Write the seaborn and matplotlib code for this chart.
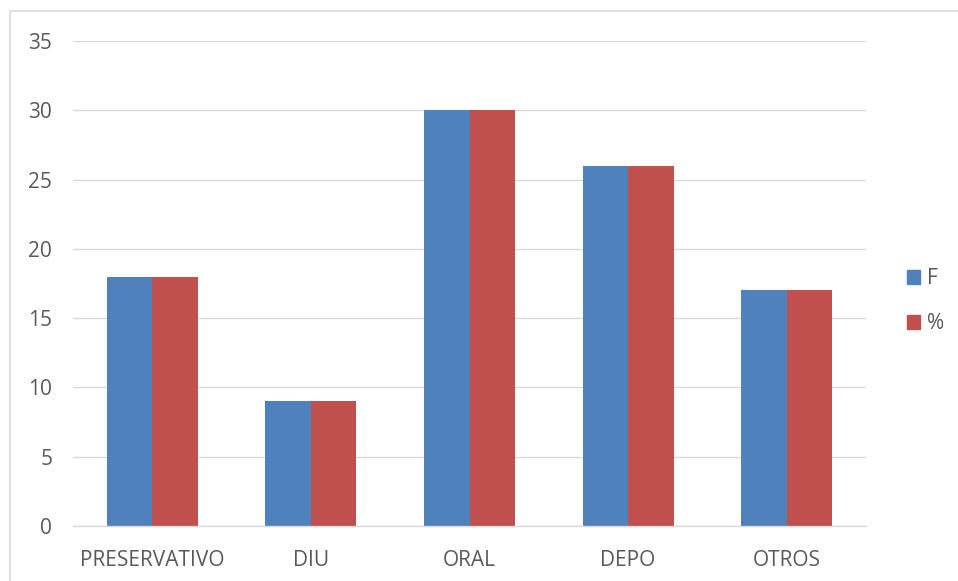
import matplotlib
matplotlib.use("Agg")
import matplotlib.pyplot as plt
import matplotlib.patches as mpatches
import seaborn as sns
import pandas as pd

categories = ["PRESERVATIVO", "DIU", "ORAL", "DEPO", "OTROS"]
freq = [18, 9, 30, 26, 17]
pct = [18, 9, 30, 26, 17]
series_names = ["F", "%"]
colors = ["#4F81BD", "#C0504D"]
y_ticks = [0, 5, 10, 15, 20, 25, 30, 35]

df = pd.DataFrame({
    "cat": categories * 2,
    "val": freq + pct,
    "serie": [series_names[0]] * len(categories) + [series_names[1]] * len(categories),
})

sns.set_style("white")
plt.rcParams["font.family"] = ["Open Sans", "DejaVu Sans"]

fig = plt.figure(figsize=(9.58, 5.81), dpi=100)
ax = fig.add_axes([73 / 958, 55 / 581, (866 - 73) / 958, (526 - 41) / 581])

sns.barplot(data=df, x="cat", y="val", hue="serie", palette=colors,
            width=0.574, gap=0, saturation=1, ax=ax, errorbar=None,
            linewidth=0)

ax.set_ylim(0, 35)
ax.set_yticks(y_ticks)
ax.yaxis.grid(True, color="#d9d9d9", linewidth=1)
ax.set_axisbelow(True)
for s in ["top", "right", "left"]:
    ax.spines[s].set_visible(False)
ax.spines["bottom"].set_color("#d9d9d9")
ax.spines["bottom"].set_linewidth(1)
ax.set_xlabel("")
ax.set_ylabel("")
ax.tick_params(axis="both", length=0, labelsize=15, colors="#595959")
ax.tick_params(axis="y", pad=15)
ax.tick_params(axis="x", pad=17)

handles = [mpatches.Patch(color=c) for c in colors]
fig.legend(handles, series_names, loc="center left",
           bbox_to_anchor=(888 / 958, 1 - 301 / 581), frameon=False,
           fontsize=15, handlelength=0.65, handleheight=0.65,
           labelspacing=1.15, handletextpad=0.3, labelcolor="#595959")
if ax.get_legend():
    ax.get_legend().remove()

# outer chart border
fig.patches.append(mpatches.Rectangle((10 / 958, -0.05), 1.0, 1 - 11 / 581 + 0.05,
                                      transform=fig.transFigure, fill=False,
                                      edgecolor="#d9d9d9", linewidth=1.2))

fig.savefig("out.png", dpi=100)
